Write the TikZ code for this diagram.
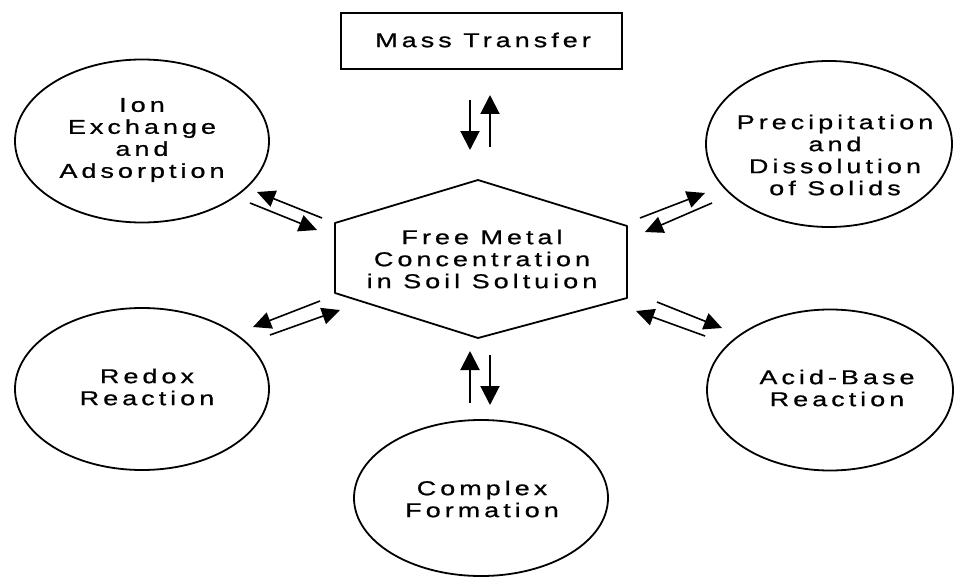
\documentclass[tikz,border=0pt]{standalone}
\usepackage{fontspec}
\setmainfont{Liberation Sans}[FakeStretch=1.35,LetterSpace=20,FakeBold=0.8]
\usetikzlibrary{arrows.meta,shapes.geometric}
\begin{document}
\begin{tikzpicture}[x=1pt,y=-1pt,
  outline/.style={draw, line width=1.8pt},
  oval/.style={ellipse, outline, inner sep=0pt},
  lbl/.style={align=center, inner sep=0pt, font=\fontsize{20}{22}\selectfont},
  arr/.style={line width=2pt, -{Triangle[length=19pt,width=19pt]}},
  darr/.style={line width=1.6pt, -{Triangle[length=18pt,width=17pt]}}]
\fill[white] (0,0) rectangle (954,578);
\useasboundingbox (0,0) rectangle (954,578);
% Mass transfer box
\node[outline, minimum width=281pt, minimum height=56pt, inner sep=0pt] (mass) at (481.5,41) {};
\node[lbl] (masst) at (483,40) {Mass Transfer};
% hexagon
\coordinate (h1) at (478,180);
\coordinate (h2) at (627,226);
\coordinate (h3) at (627,298);
\coordinate (h4) at (478,338);
\coordinate (h5) at (335,293);
\coordinate (h6) at (335,223);
\draw[line width=1.8pt, line join=round] (h1)--(h2)--(h3)--(h4)--(h5)--(h6)--cycle;
\node[lbl] (free) at (482,259) {Free Metal\\Concentration\\in Soil Soltuion};
% ellipses
\node[oval, minimum width=254pt, minimum height=163pt] (ion) at (142,141) {};
\node[lbl] (iont) at (142,140) {Ion\\Exchange\\and\\Adsorption};
\node[oval, minimum width=246pt, minimum height=166pt] (prec) at (829,144) {};
\node[lbl] (prect) at (835,155) {Precipitation\\and\\Dissolution\\of Solids};
\node[oval, minimum width=254pt, minimum height=162pt] (redox) at (142,389) {};
\node[lbl] (redoxt) at (147,387) {Redox\\Reaction};
\node[oval, minimum width=246pt, minimum height=161pt] (acid) at (830,390) {};
\node[lbl] (acidt) at (837,388) {Acid-Base\\Reaction};
\node[oval, minimum width=254pt, minimum height=156pt] (cplx) at (481,498) {};
\node[lbl] (cplxt) at (482,499) {Complex\\Formation};
% arrow end points
\coordinate (m1a) at (470,100); \coordinate (m1b) at (470,150);
\coordinate (m2a) at (490,147); \coordinate (m2b) at (490,95);
\coordinate (c1a) at (470,403); \coordinate (c1b) at (470,351);
\coordinate (c2a) at (490,355); \coordinate (c2b) at (490,405);
\coordinate (i1a) at (322,218); \coordinate (i1b) at (257,192);
\coordinate (i2a) at (250,203); \coordinate (i2b) at (317,230);
\coordinate (p1a) at (640,218); \coordinate (p1b) at (705,193);
\coordinate (p2a) at (712,203); \coordinate (p2b) at (645,232);
\coordinate (r1a) at (320,301); \coordinate (r1b) at (253,327);
\coordinate (r2a) at (270,335); \coordinate (r2b) at (340,310);
\coordinate (a1a) at (657,302); \coordinate (a1b) at (722,328);
\coordinate (a2a) at (705,336); \coordinate (a2b) at (636,311);
\foreach \s in {m1,m2,c1,c2}
  \draw[arr] (\s a) -- (\s b);
\foreach \s in {i1,i2,p1,p2,r1,r2,a1,a2}
  \draw[darr] (\s a) -- (\s b);
\end{tikzpicture}
\end{document}
